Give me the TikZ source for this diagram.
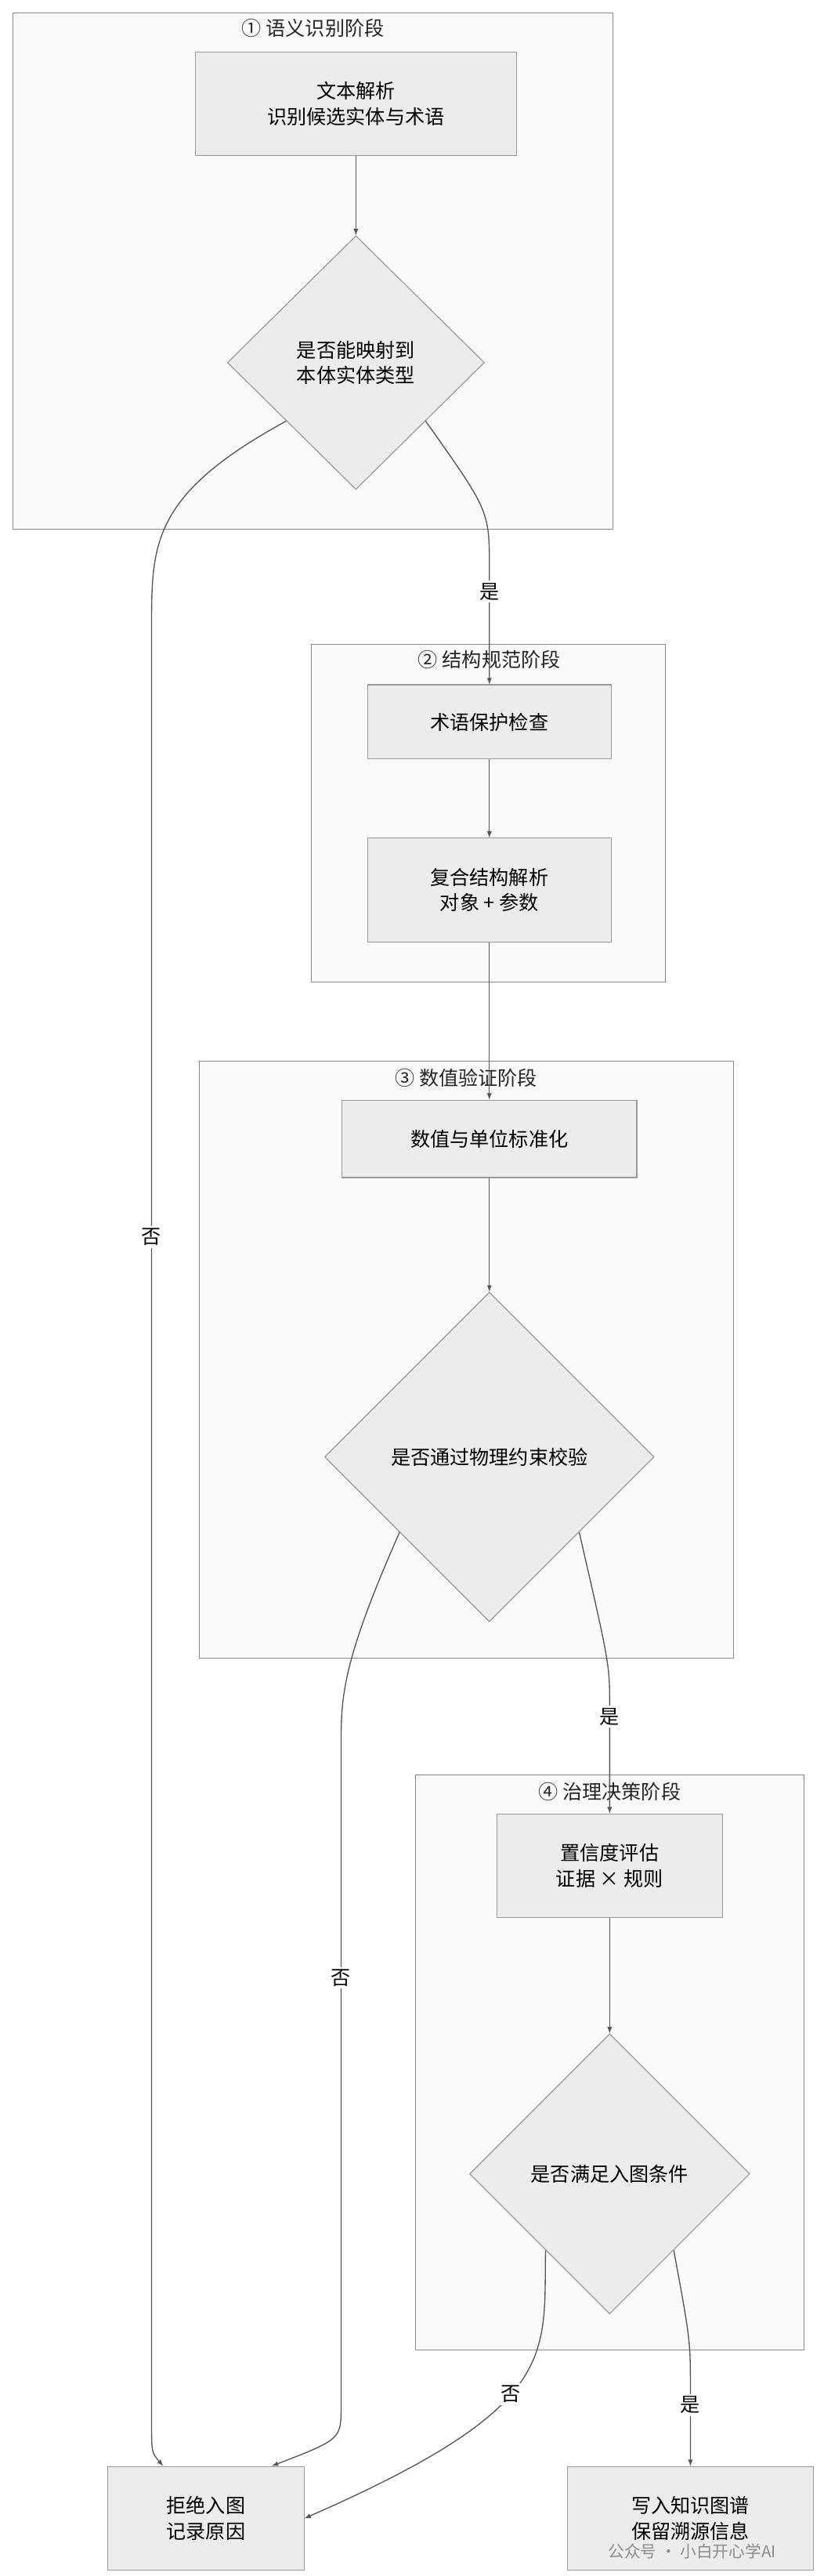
\documentclass[tikz,border=0pt]{standalone}
\usepackage{fontspec}
\setmainfont{Noto Sans CJK SC}
\usetikzlibrary{shapes.geometric}
\definecolor{clfill}{HTML}{FAFAFA}
\definecolor{clline}{HTML}{888888}
\definecolor{ndfill}{HTML}{ECECEC}
\definecolor{ndline}{HTML}{999999}
\definecolor{arline}{HTML}{555555}
\tikzset{
  cluster/.style={draw=clline,fill=clfill,line width=0.8pt},
  cltitle/.style={font=\fontsize{17}{20}\selectfont,text=black!85},
  stepbox/.style={draw=ndline,fill=ndfill,line width=0.8pt,align=center,
    font=\fontsize{17}{22}\selectfont,inner sep=0pt},
  choice/.style={diamond,draw=ndline,fill=ndfill,line width=0.8pt,align=center,
    font=\fontsize{17}{22}\selectfont,inner sep=0pt},
  arr/.style={draw=arline,line width=0.9pt,-latex},
  elabel/.style={fill=white,font=\fontsize{17}{20}\selectfont,inner sep=2pt}
}
\begin{document}
\begin{tikzpicture}[x=0.05cm,y=-0.05cm]
\useasboundingbox[fill=white] (0,0) rectangle (500,1563);
% stage frames
\draw[cluster] (8,8) rectangle (372,321);
\node[cltitle] (t1) at (190,17) {① 语义识别阶段};
\draw[cluster] (189,391) rectangle (404,596);
\node[cltitle] (t2) at (297,400) {② 结构规范阶段};
\draw[cluster] (121,644) rectangle (445,1006);
\node[cltitle] (t3) at (283,654) {③ 数值验证阶段};
\draw[cluster] (252,1077) rectangle (488,1426);
\node[cltitle] (t4) at (370,1087) {④ 治理决策阶段};
% steps
\node[stepbox,minimum width=9.75cm,minimum height=3.15cm] (b1) at (216,63) {文本解析\\识别候选实体与术语};
\node[choice,minimum width=7.8cm,minimum height=7.7cm] (d1) at (216,220) {是否能映射到\\本体实体类型};
\node[stepbox,minimum width=7.4cm,minimum height=2.25cm] (b2) at (297,438) {术语保护检查};
\node[stepbox,minimum width=7.4cm,minimum height=3.15cm] (b3) at (297,540) {复合结构解析\\对象 + 参数};
\node[stepbox,minimum width=8.95cm,minimum height=2.35cm] (b4) at (297,691) {数值与单位标准化};
\node[choice,minimum width=10cm,minimum height=10cm] (d2) at (297,884) {是否通过物理约束校验};
\node[stepbox,minimum width=6.85cm,minimum height=3.15cm] (b5) at (370,1132) {置信度评估\\证据 × 规则};
\node[choice,minimum width=8.5cm,minimum height=8.5cm] (d3) at (370,1319) {是否满足入图条件};
\node[stepbox,minimum width=5.95cm,minimum height=3.15cm] (b6) at (125,1528) {拒绝入图\\记录原因};
\node[stepbox,minimum width=7.45cm,minimum height=3.15cm] (b7) at (419,1528) {写入知识图谱\\保留溯源信息};
% connectors
\draw[arr] (b1) -- (d1);
\draw[arr] (d1.-40) .. controls (297,310) .. (297,345) -- node[elabel,pos=0.2]{是} (b2.north);
\draw[arr] (d1.-140) .. controls (92,300) and (92,330) .. (92,380) -- node[elabel,pos=0.34]{否} (92,1470) .. controls (92,1488) .. ([xshift=-1.3cm]b6.north);
\draw[arr] (b2) -- (b3);
\draw[arr] (b3) -- (b4);
\draw[arr] (b4) -- (d2);
\draw[arr] (d2.-40) .. controls (370,1010) .. (370,1035) -- node[elabel,pos=0.1]{是} (b5.north);
\draw[arr] (d2.-140) .. controls (207,1010) and (207,1030) .. (207,1060) -- node[elabel,pos=0.35]{否} (207,1460) .. controls (207,1480) .. ([xshift=2cm]b6.north);
\draw[arr] (b5) -- (d3);
\draw[arr] (d3.-130) .. controls (330,1430) and (340,1460) .. node[elabel,pos=0.55]{否} (b6.east);
\draw[arr] (d3.-50) .. controls (419,1420) .. (419,1450) -- node[elabel,pos=0.2]{是} (b7.north);
\node[font=\fontsize{14}{16}\selectfont,text=black!45] (wm) at (420,1548) {公众号 · 小白开心学AI};
\end{tikzpicture}
\end{document}
